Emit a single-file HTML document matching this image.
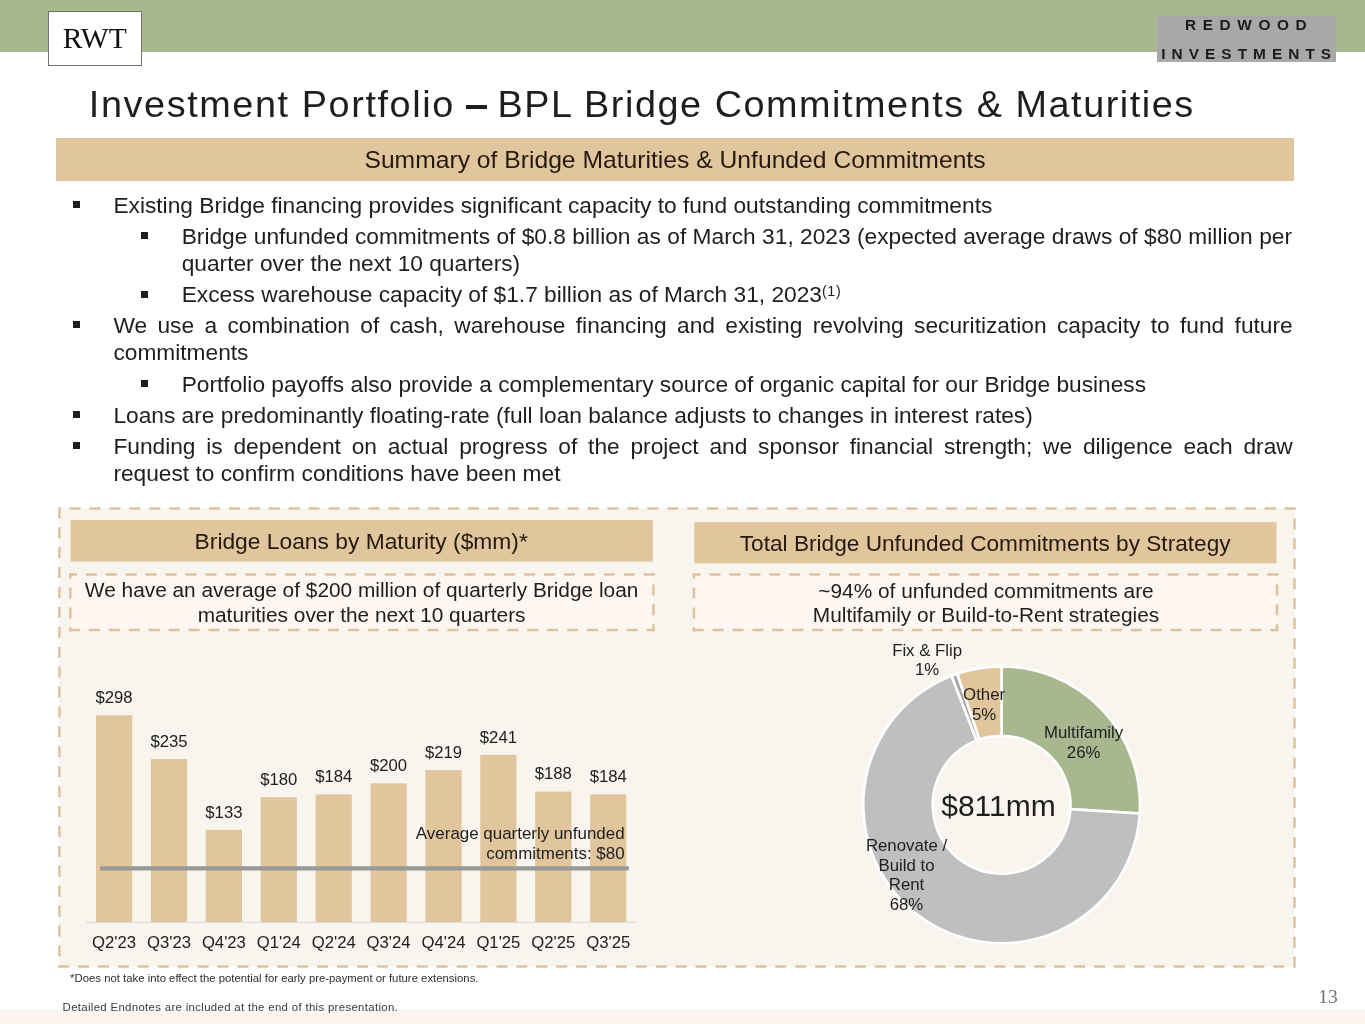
<!DOCTYPE html>
<html><head><meta charset="utf-8">
<style>
html,body{margin:0;padding:0;}
body{width:1365px;height:1024px;position:relative;overflow:hidden;will-change:transform;background:#fff;font-family:"Liberation Sans",sans-serif;color:#1e1e1e;}
.abs{position:absolute;}
.band{left:0;top:0;width:1365px;height:52px;background:#a9b78f;}
.rwt{left:48px;top:10.8px;width:93.6px;height:54.8px;box-sizing:border-box;border:1.3px solid #707070;background:#fff;font-family:"Liberation Serif",serif;font-size:29.6px;color:#111;text-align:center;line-height:53.4px;}
.logo{left:1156.6px;top:15.9px;width:179px;height:45.7px;background:#a8a8a8;}
.logo div{position:absolute;font-weight:bold;font-size:15.4px;color:#1b1b1b;white-space:nowrap;line-height:1;}
.title{left:88.8px;top:85.8px;font-size:37.8px;letter-spacing:1.6px;white-space:nowrap;color:#1e1e1e;line-height:1;}
.hdr{left:56px;top:138.2px;width:1238px;height:42.4px;background:#e1c59d;box-shadow:inset 0 0 0 1px #d9c5a7;}
.hdr span{position:absolute;left:0;right:0;text-align:center;font-size:24.68px;color:#251a10;white-space:nowrap;line-height:1;}
.bl{font-size:22.72px;line-height:1;white-space:nowrap;color:#1e1e1e;}
.bl sup{font-size:14.3px;letter-spacing:0.6px;vertical-align:0;position:relative;top:-6.5px;line-height:0;}
.sq{background:#1e1e1e;}
.just{text-align:justify;text-align-last:justify;}
svg text{font-family:"Liberation Sans",sans-serif;fill:#1e1e1e;}
.dl{font-size:16.7px;text-anchor:middle;}
.h2{font-size:22.65px;text-anchor:middle;fill:#251a10;}
.st{font-size:20.85px;text-anchor:middle;}
.av{font-size:16.95px;text-anchor:end;}
.dn{font-size:16.8px;text-anchor:middle;}
</style></head><body>
<div class="abs band"></div>
<div class="abs rwt">RWT</div>
<div class="abs logo">
  <div style="left:28.4px;top:0.9px;letter-spacing:6.6px;">REDWOOD</div>
  <div style="left:4.7px;top:29.7px;letter-spacing:6.04px;">INVESTMENTS</div>
</div>
<div class="abs title">Investment Portfolio</div>
<div class="abs" style="left:465.9px;top:105.2px;width:21px;height:3.6px;background:#1e1e1e;"></div>
<div class="abs title" style="left:497.4px;letter-spacing:1.54px;">BPL Bridge Commitments &amp; Maturities</div>
<div class="abs hdr"><span style="top:10.2px;">Summary of Bridge Maturities &amp; Unfunded Commitments</span></div>
<div class="abs bl" style="left:113.4px;top:193.9px;">Existing Bridge financing provides significant capacity to fund outstanding commitments</div>
<div class="abs sq" style="left:73px;top:201.0px;width:6.6px;height:6.9px;"></div>
<div class="abs bl just" style="left:181.7px;top:224.7px;width:1110.3px;">Bridge unfunded commitments of $0.8 billion as of March 31, 2023 (expected average draws of $80 million per</div>
<div class="abs sq" style="left:141px;top:232.2px;width:7px;height:6.8px;"></div>
<div class="abs bl" style="left:181.7px;top:251.7px;">quarter over the next 10 quarters)</div>
<div class="abs bl" style="left:181.7px;top:283.3px;">Excess warehouse capacity of $1.7 billion as of March 31, 2023<sup>(1)</sup></div>
<div class="abs sq" style="left:141px;top:290.8px;width:7px;height:6.8px;"></div>
<div class="abs bl just" style="left:113.4px;top:314.0px;width:1179.3px;">We use a combination of cash, warehouse financing and existing revolving securitization capacity to fund future</div>
<div class="abs sq" style="left:73px;top:321.1px;width:6.6px;height:6.9px;"></div>
<div class="abs bl" style="left:113.4px;top:341.3px;">commitments</div>
<div class="abs bl" style="left:181.7px;top:372.6px;">Portfolio payoffs also provide a complementary source of organic capital for our Bridge business</div>
<div class="abs sq" style="left:141px;top:380.1px;width:7px;height:6.8px;"></div>
<div class="abs bl" style="left:113.4px;top:403.7px;">Loans are predominantly floating-rate (full loan balance adjusts to changes in interest rates)</div>
<div class="abs sq" style="left:73px;top:410.8px;width:6.6px;height:6.9px;"></div>
<div class="abs bl just" style="left:113.4px;top:434.6px;width:1179.3px;">Funding is dependent on actual progress of the project and sponsor financial strength; we diligence each draw</div>
<div class="abs sq" style="left:73px;top:441.7px;width:6.6px;height:6.9px;"></div>
<div class="abs bl" style="left:113.4px;top:462.2px;">request to confirm conditions have been met</div>
<svg class="abs" style="left:0;top:0" width="1365" height="1024" viewBox="0 0 1365 1024">
<defs><linearGradient id="bg" x1="0" y1="0" x2="0" y2="1"><stop offset="0" stop-color="#fff"/><stop offset="0.6" stop-color="#f8f4ef"/><stop offset="1" stop-color="#fdf4ee"/></linearGradient></defs><rect x="0" y="1008" width="1365" height="4.5" fill="url(#bg)"/><rect x="0" y="1012.5" width="1365" height="11.5" fill="#fdf4ee"/>
<rect x="59.4" y="508.5" width="1235.10" height="457.90" fill="#f8f4ee"/>
<path stroke="#dcc39f" stroke-width="2.5" stroke-dasharray="11 8.92" fill="none" d="M59.4,507.25V967.65M58.15,966.4H1295.75M1294.5,967.65V507.25M1295.75,508.5H58.15"/>
<rect x="70.7" y="520" width="582.1" height="41.6" fill="#e1c59d"/>
<rect x="694.3" y="522.1" width="582.2" height="41.2" fill="#e1c59d"/>
<rect x="70.3" y="574.4" width="583.10" height="55.70" fill="#fdf6f1"/>
<path stroke="#dcc39f" stroke-width="2.5" stroke-dasharray="11 8.92" fill="none" stroke-dashoffset="5.55" d="M70.3,573.15V631.35"/>
<path stroke="#dcc39f" stroke-width="2.5" stroke-dasharray="11 8.92" fill="none" stroke-dashoffset="0" d="M69.05,630.1H654.65"/>
<path stroke="#dcc39f" stroke-width="2.5" stroke-dasharray="11 8.92" fill="none" stroke-dashoffset="3.9" d="M653.4,631.35V573.15"/>
<path stroke="#dcc39f" stroke-width="2.5" stroke-dasharray="11 8.92" fill="none" stroke-dashoffset="0" d="M654.65,574.4H69.05"/>
<rect x="693.9" y="574.4" width="583.10" height="55.70" fill="#fdf6f1"/>
<path stroke="#dcc39f" stroke-width="2.5" stroke-dasharray="11 8.92" fill="none" stroke-dashoffset="5.55" d="M693.9,573.15V631.35"/>
<path stroke="#dcc39f" stroke-width="2.5" stroke-dasharray="11 8.92" fill="none" stroke-dashoffset="0" d="M692.65,630.1H1278.25"/>
<path stroke="#dcc39f" stroke-width="2.5" stroke-dasharray="11 8.92" fill="none" stroke-dashoffset="3.9" d="M1277,631.35V573.15"/>
<path stroke="#dcc39f" stroke-width="2.5" stroke-dasharray="11 8.92" fill="none" stroke-dashoffset="0" d="M1278.25,574.4H692.65"/>
<text x="361.2" y="549" class="h2" style="font-size:22.8px">Bridge Loans by Maturity ($mm)*</text>
<text x="985.2" y="551.3" class="h2">Total Bridge Unfunded Commitments by Strategy</text>
<text x="361.6" y="597.4" class="st">We have an average of $200 million of quarterly Bridge loan</text>
<text x="361.6" y="621.8" class="st">maturities over the next 10 quarters</text>
<text x="986" y="597.5" class="st">~94% of unfunded commitments are</text>
<text x="986" y="622.2" class="st">Multifamily or Build-to-Rent strategies</text>
<line x1="86" y1="922.3" x2="636" y2="922.3" stroke="#d9d9d9" stroke-width="1"/>
<rect x="96.00" y="715.24" width="36.2" height="206.76" fill="#e1c59d"/>
<text x="114.10" y="703.04" class="dl">$298</text>
<text x="114.10" y="947.8" class="dl">Q2'23</text>
<rect x="150.90" y="758.99" width="36.2" height="163.01" fill="#e1c59d"/>
<text x="169.00" y="746.79" class="dl">$235</text>
<text x="169.00" y="947.8" class="dl">Q3'23</text>
<rect x="205.80" y="829.83" width="36.2" height="92.17" fill="#e1c59d"/>
<text x="223.90" y="817.63" class="dl">$133</text>
<text x="223.90" y="947.8" class="dl">Q4'23</text>
<rect x="260.70" y="797.19" width="36.2" height="124.81" fill="#e1c59d"/>
<text x="278.80" y="784.99" class="dl">$180</text>
<text x="278.80" y="947.8" class="dl">Q1'24</text>
<rect x="315.60" y="794.41" width="36.2" height="127.59" fill="#e1c59d"/>
<text x="333.70" y="782.21" class="dl">$184</text>
<text x="333.70" y="947.8" class="dl">Q2'24</text>
<rect x="370.50" y="783.30" width="36.2" height="138.70" fill="#e1c59d"/>
<text x="388.60" y="771.10" class="dl">$200</text>
<text x="388.60" y="947.8" class="dl">Q3'24</text>
<rect x="425.40" y="770.10" width="36.2" height="151.90" fill="#e1c59d"/>
<text x="443.50" y="757.90" class="dl">$219</text>
<text x="443.50" y="947.8" class="dl">Q4'24</text>
<rect x="480.30" y="754.83" width="36.2" height="167.17" fill="#e1c59d"/>
<text x="498.40" y="742.63" class="dl">$241</text>
<text x="498.40" y="947.8" class="dl">Q1'25</text>
<rect x="535.20" y="791.63" width="36.2" height="130.37" fill="#e1c59d"/>
<text x="553.30" y="779.43" class="dl">$188</text>
<text x="553.30" y="947.8" class="dl">Q2'25</text>
<rect x="590.10" y="794.41" width="36.2" height="127.59" fill="#e1c59d"/>
<text x="608.20" y="782.21" class="dl">$184</text>
<text x="608.20" y="947.8" class="dl">Q3'25</text>
<line x1="100" y1="868.3" x2="628.8" y2="868.3" stroke="#969a98" stroke-width="4.3"/>
<text x="624.6" y="839.1" class="av">Average quarterly unfunded</text>
<text x="624.6" y="859.3" class="av">commitments: $80</text>
<path d="M1001.60,666.40 A138.4,138.4 0 0 1 1139.73,813.49 L1070.36,809.13 A68.9,68.9 0 0 0 1001.60,735.90 Z" fill="#a9b78f" stroke="#fff" stroke-width="2.6" stroke-linejoin="round"/>
<path d="M1139.73,813.49 A138.4,138.4 0 1 1 951.55,675.77 L976.68,740.56 A68.9,68.9 0 1 0 1070.36,809.13 Z" fill="#bfbfbf" stroke="#fff" stroke-width="2.6" stroke-linejoin="round"/>
<path d="M951.55,675.77 A138.4,138.4 0 0 1 957.23,673.71 L979.51,739.54 A68.9,68.9 0 0 0 976.68,740.56 Z" fill="#a8a8a8" stroke="#fff" stroke-width="2.6" stroke-linejoin="round"/>
<path d="M957.23,673.71 A138.4,138.4 0 0 1 1001.60,666.40 L1001.60,735.90 A68.9,68.9 0 0 0 979.51,739.54 Z" fill="#e1c59d" stroke="#fff" stroke-width="2.6" stroke-linejoin="round"/>
<text x="998.5" y="815.6" style="font-size:30px;text-anchor:middle;">$811mm</text>
<text x="927.1" y="655.6" class="dn">Fix &amp; Flip</text>
<text x="927.1" y="675.1" class="dn">1%</text>
<text x="984.1" y="700.2" class="dn">Other</text>
<text x="984.1" y="719.7" class="dn">5%</text>
<text x="1083.6" y="737.8" class="dn">Multifamily</text>
<text x="1083.6" y="757.5" class="dn">26%</text>
<text x="906.5" y="850.8" class="dn">Renovate /</text>
<text x="906.5" y="870.6" class="dn">Build to</text>
<text x="906.5" y="889.9" class="dn">Rent</text>
<text x="906.5" y="909.7" class="dn">68%</text>
<text x="70.1" y="982.1" style="font-size:11.35px;fill:#2e2e2e;">*Does not take into effect the potential for early pre-payment or future extensions.</text>
<text x="62.6" y="1010.7" style="font-size:11.4px;letter-spacing:0.33px;fill:#3a3a3a;">Detailed Endnotes are included at the end of this presentation.</text>
<text x="1337.8" y="1002.9" style="font-family:'Liberation Serif',serif;font-size:19.6px;text-anchor:end;fill:#737373;">13</text>
</svg>
</body></html>
